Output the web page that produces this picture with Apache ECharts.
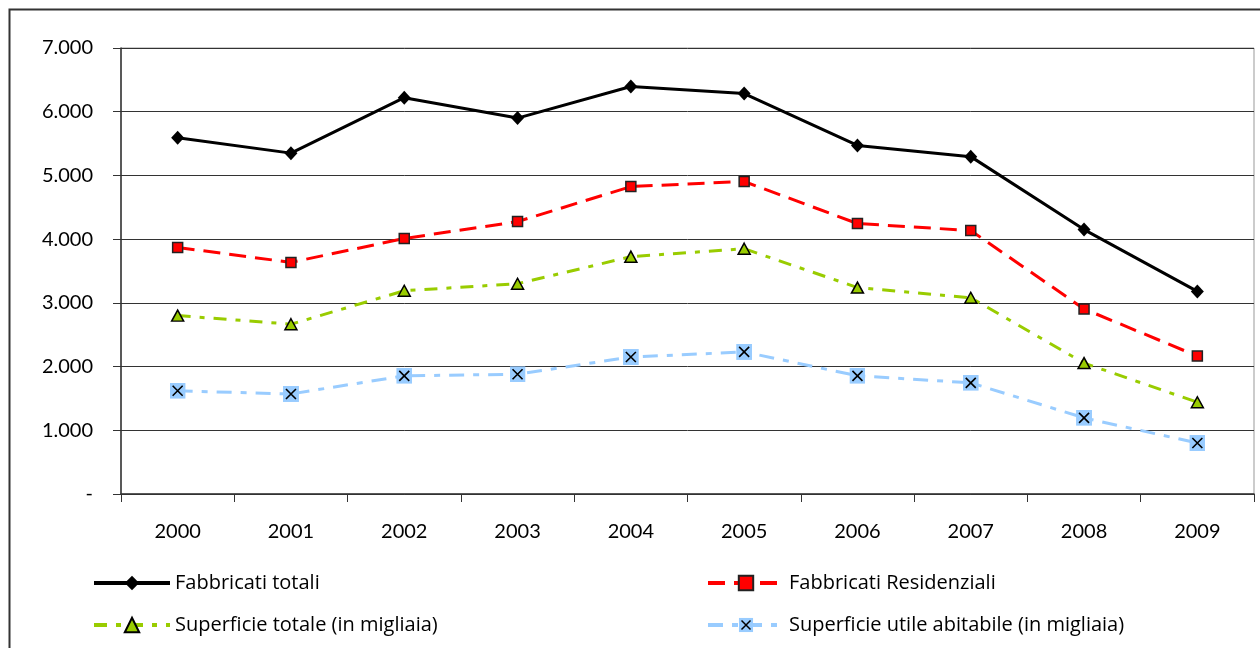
<!DOCTYPE html>
<html>
<head>
<meta charset="utf-8">
<script src="https://cdn.jsdelivr.net/npm/echarts@6/dist/echarts.min.js"></script>
<style>html,body{margin:0;padding:0;background:#fff}#c{width:1260px;height:648px}</style>
</head>
<body>
<div id="c"></div>
<script>
const years = ['2000','2001','2002','2003','2004','2005','2006','2007','2008','2009'];
const fabbricatiTotali = [5590, 5350, 6220, 5900, 6395, 6285, 5470, 5295, 4150, 3180];
const fabbricatiResidenziali = [3870, 3635, 4010, 4275, 4825, 4905, 4245, 4135, 2905, 2165];
const superficieTotale = [2800, 2665, 3190, 3300, 3725, 3850, 3240, 3080, 2055, 1440];
const superficieUtile = [1620, 1570, 1855, 1880, 2150, 2230, 1855, 1745, 1195, 800];
const yTicks = ['-', '1.000', '2.000', '3.000', '4.000', '5.000', '6.000', '7.000'];
const seriesNames = ['Fabbricati totali', 'Fabbricati Residenziali', 'Superficie totale (in migliaia)', 'Superficie utile abitabile (in migliaia)'];

const FONT = 'Lato';
const LFONT = 'Open Sans';
const xSvg = 'data:image/svg+xml;utf8,' + encodeURIComponent(
  '<svg xmlns="http://www.w3.org/2000/svg" width="16" height="16" viewBox="0 0 16 16">' +
  '<rect x="0" y="0" width="16" height="16" fill="#99CCFF"/>' +
  '<path d="M3 3 L13 13 M13 3 L3 13" stroke="#000" stroke-width="1.6"/></svg>');

const legendPos = [[92, 573], [706, 573], [92, 615], [706, 615]];
const legends = seriesNames.map((n, i) => ({
  show: true, left: legendPos[i][0], top: legendPos[i][1], orient: 'horizontal',
  itemWidth: 76, itemHeight: 18, itemGap: 0, padding: 0,
  lineStyle: { width: 4 },
  textStyle: { fontFamily: LFONT, fontSize: 20, color: '#000' },
  data: [n]
}));

const chart = echarts.init(document.getElementById('c'));
chart.setOption({
  animation: false,
  backgroundColor: '#fff',
  textStyle: { fontFamily: FONT },
  graphic: [{
    type: 'rect', shape: { x: 9.5, y: 9.5, width: 1400, height: 800 },
    style: { fill: 'none', stroke: '#333', lineWidth: 2 }, silent: true, z: -1
  }],
  grid: { left: 121, right: 6, top: 48, bottom: 154, show: true, borderColor: '#999', borderWidth: 1, backgroundColor: 'transparent' },
  legend: legends,
  xAxis: {
    type: 'category', data: years, boundaryGap: true,
    axisLine: { lineStyle: { color: '#333', width: 1.5 } },
    axisTick: { show: true, length: 8, lineStyle: { color: '#333' } },
    axisLabel: { fontFamily: FONT, fontSize: 20, color: '#000', margin: 28 }
  },
  yAxis: {
    type: 'value', min: 0, max: 7000, interval: 1000,
    axisLine: { show: true, lineStyle: { color: '#333', width: 1.5 } },
    axisTick: { show: true, length: 8, lineStyle: { color: '#333' } },
    splitLine: { lineStyle: { color: '#333', width: 1 } },
    axisLabel: {
      fontFamily: FONT, fontSize: 20, color: '#000', margin: 28,
      formatter: v => yTicks[Math.round(v / 1000)]
    }
  },
  series: [{
    name: seriesNames[0], type: 'line', data: fabbricatiTotali,
    symbol: 'diamond', symbolSize: [13, 14],
    lineStyle: { color: '#000', width: 3 },
    itemStyle: { color: '#000' }
  }, {
    name: seriesNames[1], type: 'line', data: fabbricatiResidenziali,
    symbol: 'rect', symbolSize: 10,
    lineStyle: { color: '#FF0000', width: 3, type: [17, 9] },
    itemStyle: { color: '#FF0000', borderColor: '#222', borderWidth: 1.5 }
  }, {
    name: seriesNames[2], type: 'line', data: superficieTotale,
    symbol: 'triangle', symbolSize: [12, 11],
    lineStyle: { color: '#99CC00', width: 3, type: [13, 9, 5, 9] },
    itemStyle: { color: '#99CC00', borderColor: '#000', borderWidth: 1.5 }
  }, {
    name: seriesNames[3], type: 'line', data: superficieUtile,
    symbol: 'image://' + xSvg, symbolSize: 16,
    lineStyle: { color: '#99CCFF', width: 3, type: [15, 9, 6, 9] },
    itemStyle: { color: '#99CCFF' }
  }]
});
</script>
</body>
</html>
